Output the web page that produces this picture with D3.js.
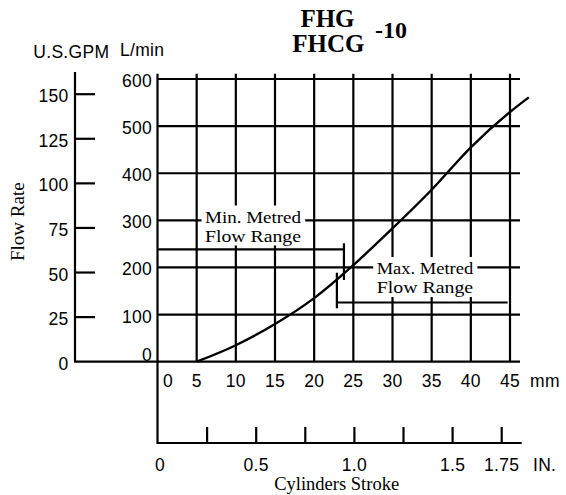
<!DOCTYPE html>
<html>
<head>
<meta charset="utf-8">
<script src="https://cdn.jsdelivr.net/npm/d3@7"></script>
<style>
  html, body { margin: 0; padding: 0; background: #fff; }
  svg { display: block; }
  .sans { font-family: "Liberation Sans", Arial, Helvetica, sans-serif; font-size: 17.5px; letter-spacing: 0.3px; fill: #000; }
  .serif { font-family: "Liberation Serif", "Times New Roman", serif; fill: #000; }
</style>
</head>
<body>
<svg id="chart" width="566" height="495"></svg>
<script>
// ---------- data ----------
const mmTicks = [0, 5, 10, 15, 20, 25, 30, 35, 40, 45];
const lpmTicks = [0, 100, 200, 300, 400, 500, 600];
const gpmTicks = [0, 25, 50, 75, 100, 125, 150];
const inchTicks = [0.25, 0.5, 0.75, 1.0, 1.25, 1.5, 1.75];
const inchLabels = ["0", "0.5", "1.0", "1.5", "1.75"];
const inchLabelValues = [0, 0.5, 1.0, 1.5, 1.75];

// flow curve: cylinder stroke (mm) vs flow rate (L/min)
const strokeMm = [5, 10, 15, 20, 25, 30, 35, 40, 45, 47.4];
const flowLpm  = [0, 35, 80, 135, 205, 283, 365, 455, 530, 561];

// metred flow range markers
const minRange = { level: 238.5, endMm: 23.8, barFrom: 173.5, barTo: 251.3 };
const maxRange = { level: 125.6, startMm: 22.9, endMm: 44.7, barFrom: 113.3, barTo: 188.9 };

const titleLines = ["FHG", "FHCG"];
const titleSuffix = "-10";
const GPM_TO_LPM = 3.785;

// ---------- scales ----------
const svg = d3.select("#chart");
const x = d3.scaleLinear().domain([0, 45]).range([157.5, 510]);
const y = d3.scaleLinear().domain([0, 600]).range([361.7, 79]);
const xIn = d3.scaleLinear().domain([0, 1.75]).range([158, 501.7]);
const inchAxisY = 443;
const gpmAxisX = 75;
const gridRight = 520;

const line = (x1, y1, x2, y2) => svg.append("line")
  .attr("x1", x1).attr("y1", y1).attr("x2", x2).attr("y2", y2)
  .attr("stroke", "#000").attr("stroke-width", 2.2);

// ---------- grid ----------
lpmTicks.forEach(v => line(x(0), y(v), gridRight, y(v)));
mmTicks.filter(v => v > 0).forEach(v => line(x(v), y(611), x(v), y(0)));

// L/min axis (extends down to the inch axis)
line(x(0), y(611), x(0), inchAxisY + 1);

// GPM axis
line(gpmAxisX, y(615), gpmAxisX, y(0));
line(gpmAxisX - 1, y(0), x(0), y(0));
gpmTicks.filter(v => v > 0).forEach(v => line(gpmAxisX, y(v * GPM_TO_LPM), gpmAxisX + 20, y(v * GPM_TO_LPM)));

// inch axis
line(x(0), inchAxisY, 521.7, inchAxisY);
inchTicks.forEach(v => line(xIn(v), inchAxisY - 16, xIn(v), inchAxisY));

// ---------- tick labels ----------
svg.selectAll(".gpmLab").data(gpmTicks).enter().append("text")
  .attr("class", "sans").attr("text-anchor", "end")
  .attr("x", 68.5).attr("y", d => y(d * GPM_TO_LPM) + 8).text(d => d);

svg.selectAll(".lpmLab").data(lpmTicks).enter().append("text")
  .attr("class", "sans").attr("text-anchor", "end")
  .attr("x", 152).attr("y", d => y(d) + (d === 0 ? -1 : 8)).text(d => d);

svg.selectAll(".mmLab").data(mmTicks).enter().append("text")
  .attr("class", "sans").attr("text-anchor", "middle")
  .attr("x", d => x(d) + (d === 0 ? 10.5 : 0)).attr("y", 387.3).text(d => d);
svg.append("text").attr("class", "sans").attr("x", 530).attr("y", 387.3).text("mm");

svg.selectAll(".inLab").data(inchLabelValues).enter().append("text")
  .attr("class", "sans").attr("text-anchor", "middle")
  .attr("x", d => xIn(d) + (d === 0 ? 2 : 0)).attr("y", 470.5).text((d, i) => inchLabels[i]);
svg.append("text").attr("class", "sans").attr("x", 533).attr("y", 470.5).text("IN.");

svg.append("text").attr("class", "sans").attr("x", 33.3).attr("y", 58.3).text("U.S.GPM");
svg.append("text").attr("class", "sans").attr("x", 120).attr("y", 56).text("L/min");

// axis titles
svg.append("text").attr("class", "serif").attr("font-size", 19)
  .attr("text-anchor", "middle")
  .attr("transform", "translate(24,221.7) rotate(-90)").text("Flow Rate");
svg.append("text").attr("class", "serif").attr("font-size", 18.5)
  .attr("text-anchor", "middle").attr("x", 336.7).attr("y", 490).text("Cylinders Stroke");

// chart title
svg.append("text").attr("class", "serif").attr("font-size", 25).attr("font-weight", "bold")
  .attr("text-anchor", "middle").attr("x", 327.5).attr("y", 26.7).text(titleLines[0]);
svg.append("text").attr("class", "serif").attr("font-size", 25).attr("font-weight", "bold")
  .attr("text-anchor", "middle").attr("x", 328.3).attr("y", 51.7).text(titleLines[1]);
svg.append("text").attr("class", "serif").attr("font-size", 24).attr("font-weight", "bold")
  .attr("x", 375).attr("y", 38.3).text(titleSuffix);

// ---------- range markers ----------
line(x(0), y(minRange.level), x(minRange.endMm), y(minRange.level));
line(x(minRange.endMm), y(minRange.barTo), x(minRange.endMm), y(minRange.barFrom));
line(x(maxRange.startMm), y(maxRange.level), x(maxRange.endMm), y(maxRange.level));
line(x(maxRange.startMm), y(maxRange.barTo), x(maxRange.startMm), y(maxRange.barFrom));

function boxedLabel(lines, x0, baselines, w) {
  const g = svg.append("g");
  const rect = g.append("rect").attr("fill", "#fff");
  const t = g.append("g");
  lines.forEach((s, i) => t.append("text").attr("class", "serif").attr("font-size", 16.8)
    .attr("x", x0).attr("y", baselines[i])
    .attr("textLength", w).attr("lengthAdjust", "spacingAndGlyphs").text(s));
  const bb = t.node().getBBox();
  rect.attr("x", bb.x - 3.5).attr("y", bb.y - 2).attr("width", bb.width + 7).attr("height", bb.height + 2);
}
boxedLabel(["Min. Metred", "Flow Range"], 205, [222.5, 241.5], 96);
boxedLabel(["Max. Metred", "Flow Range"], 376.7, [274, 293], 96.5);

// ---------- curve ----------
const pts = strokeMm.map((m, i) => [m, flowLpm[i]]);
svg.append("path").datum(pts)
  .attr("fill", "none").attr("stroke", "#000").attr("stroke-width", 2.4)
  .attr("d", d3.line().x(d => x(d[0])).y(d => y(d[1])).curve(d3.curveMonotoneX));
</script>
</body>
</html>
